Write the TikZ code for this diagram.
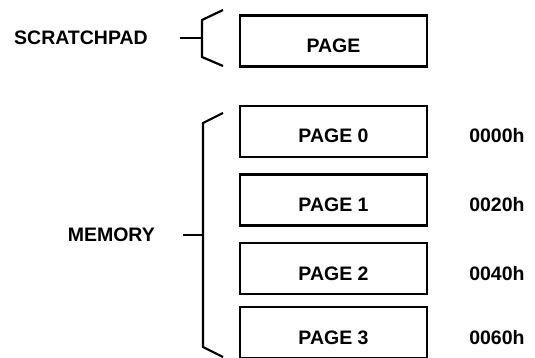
\documentclass[tikz,border=0pt]{standalone}
\usepackage{fontspec}
\setmainfont{Liberation Sans}
\usetikzlibrary{positioning}
\begin{document}
\begin{tikzpicture}[
    x=1pt, y=-1pt,
    lbl/.style={font=\fontsize{19.5}{22}\selectfont\bfseries, inner sep=0pt},
    txt/.style={lbl, text height=23pt, text depth=0pt},
    page/.style={txt, rectangle, draw, line width=2.2pt, minimum width=187pt, minimum height=51pt},
    brace/.style={line width=2.2pt, line join=miter}
]
    \useasboundingbox (0,0) rectangle (535,358);

    % Scratchpad - a single page
    \node[page] (sp) at (333.5,41) {PAGE};
    \node[lbl, anchor=east] (splbl) at (148,38) {SCRATCHPAD};
    \coordinate (spa) at (223,10);
    \coordinate (spb) at (202,20);
    \coordinate (spc) at (202,57);
    \coordinate (spd) at (223,66);
    \coordinate (spm) at (202,38);
    \draw[brace] (spa) -- (spb) -- (spc) -- (spd);
    \draw[brace, shorten <=32pt] (splbl.east) -- (spm);

    % Memory - four pages with their addresses
    \node[page] (p0) at (333.5,131.5) {PAGE 0};
    \node[page] (p1) at (333.5,200) {PAGE 1};
    \node[page] (p2) at (333.5,268.5) {PAGE 2};
    \node[page] (p3) at (333.5,332.5) {PAGE 3};
    \node[txt, right=41pt of p0] (a0) {0000h};
    \node[txt, right=41pt of p1] (a1) {0020h};
    \node[txt, right=41pt of p2] (a2) {0040h};
    \node[txt, right=41pt of p3] (a3) {0060h};
    \node[lbl, anchor=east] (memlbl) at (155,235) {MEMORY};
    \coordinate (ma) at (223,113);
    \coordinate (mb) at (203,123);
    \coordinate (mc) at (203,347);
    \coordinate (md) at (223,357);
    \coordinate (mm) at (203,235);
    \draw[brace] (ma) -- (mb) -- (mc) -- (md);
    \draw[brace, shorten <=28pt] (memlbl.east) -- (mm);
\end{tikzpicture}
\end{document}
